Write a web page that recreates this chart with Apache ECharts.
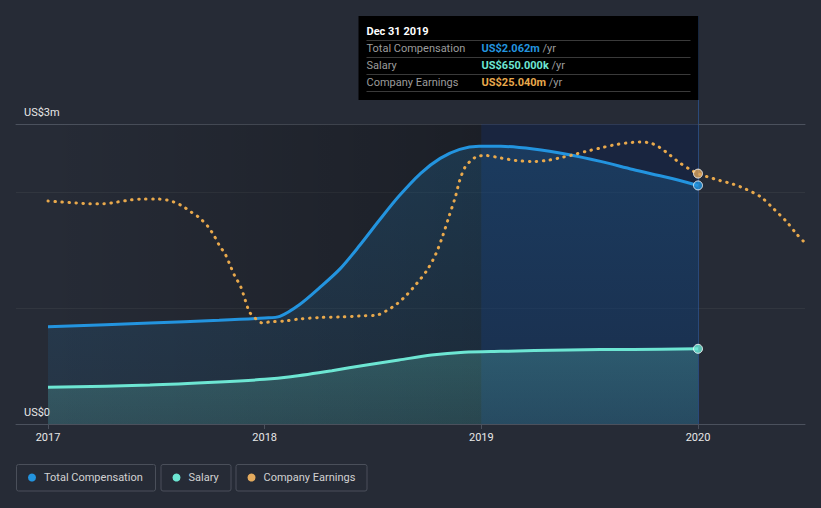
<!DOCTYPE html>
<html><head><meta charset="utf-8">
<script src="https://cdn.jsdelivr.net/npm/echarts@6/dist/echarts.min.js"></script>
<style>html,body{margin:0;padding:0;background:#262b36;} #c{width:821px;height:508px;}</style>
</head><body><div id="c"></div>
<script>
// ---- data ----
const compYears  = [2017, 2017.47, 2017.79, 2018, 2018.07, 2018.16, 2018.255, 2018.35, 2018.44, 2018.53, 2018.62, 2018.72, 2018.81, 2018.90, 2018.99, 2019.09, 2019.24, 2019.40, 2019.55, 2019.70, 2019.86, 2020];
const compValues = [0.84, 0.873, 0.896, 0.916, 0.93, 1.03, 1.18, 1.345, 1.547, 1.763, 1.97, 2.167, 2.296, 2.374, 2.40, 2.40, 2.377, 2.33, 2.27, 2.2, 2.13, 2.062];
const salaryYears  = [2017, 2017.47, 2017.79, 2018, 2018.12, 2018.31, 2018.47, 2018.62, 2018.77, 2018.92, 2019.09, 2019.40, 2019.70, 2020];
const salaryValues = [0.317, 0.337, 0.363, 0.386, 0.409, 0.461, 0.51, 0.553, 0.596, 0.62, 0.628, 0.64, 0.645, 0.65];
const earnYears  = [2017, 2017.06, 2017.13, 2017.19, 2017.255, 2017.32, 2017.38, 2017.44, 2017.50, 2017.55, 2017.58, 2017.62, 2017.66, 2017.70, 2017.74, 2017.77, 2017.79, 2017.82, 2017.84, 2017.86, 2017.89, 2017.91, 2017.93, 2017.96, 2017.99, 2018.02, 2018.09, 2018.16, 2018.255, 2018.35, 2018.44, 2018.52, 2018.56, 2018.61, 2018.655, 2018.70, 2018.75, 2018.79, 2018.82, 2018.85, 2018.88, 2018.90, 2018.925, 2018.95, 2018.98, 2019.02, 2019.09, 2019.16, 2019.24, 2019.30, 2019.36, 2019.42, 2019.49, 2019.55, 2019.61, 2019.67, 2019.73, 2019.78, 2019.82, 2019.87, 2019.91, 2019.96, 2020, 2020.04, 2020.10, 2020.16, 2020.22, 2020.29, 2020.35, 2020.41, 2020.455, 2020.49];
const earnValues = [22.3, 22.2, 22.1, 22.03, 22.03, 22.2, 22.4, 22.5, 22.5, 22.4, 22.2, 21.8, 21.2, 20.6, 19.7, 18.7, 17.9, 16.9, 15.9, 14.9, 13.7, 12.4, 11.2, 10.5, 10.1, 10.2, 10.3, 10.5, 10.65, 10.7, 10.8, 10.9, 11.3, 12.0, 12.9, 14.0, 15.4, 17.0, 18.7, 20.7, 22.7, 24.35, 25.7, 26.3, 26.75, 26.85, 26.6, 26.35, 26.25, 26.35, 26.6, 26.9, 27.3, 27.6, 27.9, 28.1, 28.2, 28.1, 27.7, 26.9, 26.2, 25.5, 25.04, 24.75, 24.35, 24.0, 23.5, 22.7, 21.5, 20.2, 19.0, 18.2];
const xTickYears = [2017, 2018, 2019, 2020];
const xMin = 2016.8523, xMax = 2020.4938;
const compAxisMax = 2.593, earnAxisMax = 30;
const yLabelTop = 'US$3m', yLabelZero = 'US$0';
const tipTitle = 'Dec 31 2019';
const tipLabels = ['Total Compensation', 'Salary', 'Company Earnings'];
const tipValues = ['US$2.062m', 'US$650.000k', 'US$25.040m'];
const tipUnit = '/yr';
const legendNames = ['Total Compensation', 'Salary', 'Company Earnings'];
const highlightStart = 2019, highlightEnd = 2020, shadeStart = 2017;
const colors = ['#2394df', '#6de6d3', '#e9a94c'];

const pairs = (xs, ys) => xs.map((x, i) => [x, ys[i]]);
const last = a => a[a.length - 1];

const chart = echarts.init(document.getElementById('c'), null, {renderer: 'svg'});
const FONT = 'Roboto, "Noto Sans", sans-serif';
const endMarker = (c) => ({color: c, borderColor: '#ffffff', borderWidth: 1});

chart.setOption({
  backgroundColor: '#262b36',
  animation: false,
  textStyle: {fontFamily: FONT},
  grid: {left: 16, right: 16, top: 124, bottom: 84},
  xAxis: [{
    type: 'value', min: xMin, max: xMax,
    axisLine: {show: true, lineStyle: {color: '#4b515d'}},
    axisTick: {show: true, customValues: xTickYears, length: 5, lineStyle: {color: '#4b515d'}},
    axisLabel: {customValues: xTickYears, formatter: v => String(Math.round(v)), color: '#e8e8e8', fontSize: 11, margin: 8, fontFamily: FONT},
    splitLine: {show: false}
  }, {
    type: 'value', position: 'top', min: xMin, max: xMax,
    axisLine: {show: true, onZero: false, lineStyle: {color: '#4b515d'}},
    axisTick: {show: false}, axisLabel: {show: false}, splitLine: {show: false}
  }],
  yAxis: [{
    type: 'value', min: 0, max: compAxisMax, interval: 1,
    axisLine: {show: false}, axisTick: {show: false},
    splitLine: {show: true, lineStyle: {color: '#31363f'}},
    axisLabel: {inside: true, customValues: [0, compAxisMax], formatter: v => v === 0 ? yLabelZero : yLabelTop,
      verticalAlign: 'bottom', color: '#e8e8e8', fontSize: 11, margin: 8, padding: [0, 0, 6, 0], fontFamily: FONT}
  }, {
    type: 'value', min: 0, max: earnAxisMax, show: false
  }],
  series: [
    {
      type: 'line', data: [[xMin, 0]], symbol: 'none', z: 1, silent: true,
      lineStyle: {width: 0},
      markArea: {
        silent: true,
        data: [
          [{xAxis: shadeStart, itemStyle: {color: {type: 'linear', x: 0, y: 0, x2: 1, y2: 0,
            colorStops: [{offset: 0, color: 'rgba(0,0,0,0)'}, {offset: 1, color: 'rgba(0,0,0,0.28)'}]}}}, {xAxis: highlightStart}],
          [{xAxis: highlightStart, itemStyle: {color: 'rgba(10,32,75,0.45)'}}, {xAxis: highlightEnd}]
        ]
      }
    },
    {
      name: legendNames[0], type: 'line', data: pairs(compYears, compValues), smooth: 0.3, symbol: 'none', z: 3,
      lineStyle: {color: colors[0], width: 3},
      areaStyle: {color: {type: 'linear', x: 0, y: 0, x2: 0, y2: 1,
        colorStops: [{offset: 0, color: 'rgba(35,148,223,0.28)'}, {offset: 1, color: 'rgba(35,148,223,0.12)'}]}}
    },
    {
      name: legendNames[1], type: 'line', data: pairs(salaryYears, salaryValues), smooth: 0.3, symbol: 'none', z: 4,
      lineStyle: {color: colors[1], width: 3},
      areaStyle: {color: {type: 'linear', x: 0, y: 0, x2: 0, y2: 1,
        colorStops: [{offset: 0, color: 'rgba(109,230,211,0.32)'}, {offset: 1, color: 'rgba(109,230,211,0.22)'}]}}
    },
    {
      name: legendNames[2], type: 'line', yAxisIndex: 1, data: pairs(earnYears, earnValues), smooth: 0.3, symbol: 'none', z: 5,
      lineStyle: {color: colors[2], width: 3, type: [0.5, 6.5], cap: 'round'}
    },
    {type: 'scatter', z: 10, data: [[last(compYears), last(compValues)]], symbolSize: 9, itemStyle: endMarker(colors[0])},
    {type: 'scatter', z: 10, data: [[last(salaryYears), last(salaryValues)]], symbolSize: 9, itemStyle: endMarker(colors[1])},
    {type: 'scatter', z: 10, yAxisIndex: 1, data: [[2020, earnValues[earnYears.indexOf(2020)]]], symbolSize: 9, itemStyle: endMarker('#d9a35e')}
  ]
});

// ---- decorations: cursor line, tooltip, legend ----
const cx = Math.round(chart.convertToPixel({xAxisIndex: 0}, highlightEnd)) + 0.5;
const gBottom = chart.convertToPixel({yAxisIndex: 0}, 0);
const tipW = 340, tipH = 84, tipTop = 16, tipLeft = cx - tipW;
const g = [];
g.push({type: 'line', silent: true, z: 0, shape: {x1: cx, y1: tipTop, x2: cx, y2: gBottom}, style: {stroke: 'rgba(45,95,170,0.6)', lineWidth: 1}});
g.push({type: 'rect', silent: true, z: 20, shape: {x: tipLeft, y: tipTop, width: tipW, height: tipH}, style: {fill: '#000000'}});
g.push({type: 'text', z: 21, style: {text: tipTitle, x: tipLeft + 8, y: tipTop + 15, fill: '#ffffff', font: 'bold 11px ' + FONT, verticalAlign: 'middle'}});
const rowYs = [tipTop + 32, tipTop + 49, tipTop + 66];
const sepYs = [tipTop + 24.5, tipTop + 41.5, tipTop + 58.5, tipTop + 75.5];
sepYs.forEach(y => g.push({type: 'line', z: 21, shape: {x1: tipLeft + 8, y1: y, x2: tipLeft + tipW - 8, y2: y}, style: {stroke: '#3a3a3a', lineWidth: 1}}));
tipLabels.forEach((lab, i) => {
  g.push({type: 'text', z: 21, style: {text: lab, x: tipLeft + 8, y: rowYs[i], fill: '#9c9c9c', font: '11px ' + FONT, verticalAlign: 'middle'}});
  g.push({type: 'text', z: 21, style: {text: '{v|' + tipValues[i] + '} {u|' + tipUnit + '}', x: tipLeft + 123, y: rowYs[i], verticalAlign: 'middle', font: '11px ' + FONT,
    rich: {v: {fill: colors[i], fontWeight: 'bold', fontSize: 11, fontFamily: FONT}, u: {fill: '#9c9c9c', fontSize: 11, fontFamily: FONT}}}});
});
const legBoxes = [[16, 139], [160.5, 70], [235.5, 131]];
legendNames.forEach((n, i) => {
  const [bx, bw] = legBoxes[i];
  g.push({type: 'rect', z: 20, shape: {x: bx + 0.5, y: 464.5, width: bw, height: 26.5, r: 2}, style: {fill: 'none', stroke: '#4a4f5a', lineWidth: 1}});
  g.push({type: 'circle', z: 21, shape: {cx: bx + 16, cy: 477.5, r: 4}, style: {fill: i === 2 ? '#e4ab5e' : colors[i]}});
  g.push({type: 'text', z: 21, style: {text: n, x: bx + 28, y: 477.5, fill: '#d2d2d2', font: '11px ' + FONT, verticalAlign: 'middle'}});
});
chart.setOption({graphic: g});
</script>
</body></html>
